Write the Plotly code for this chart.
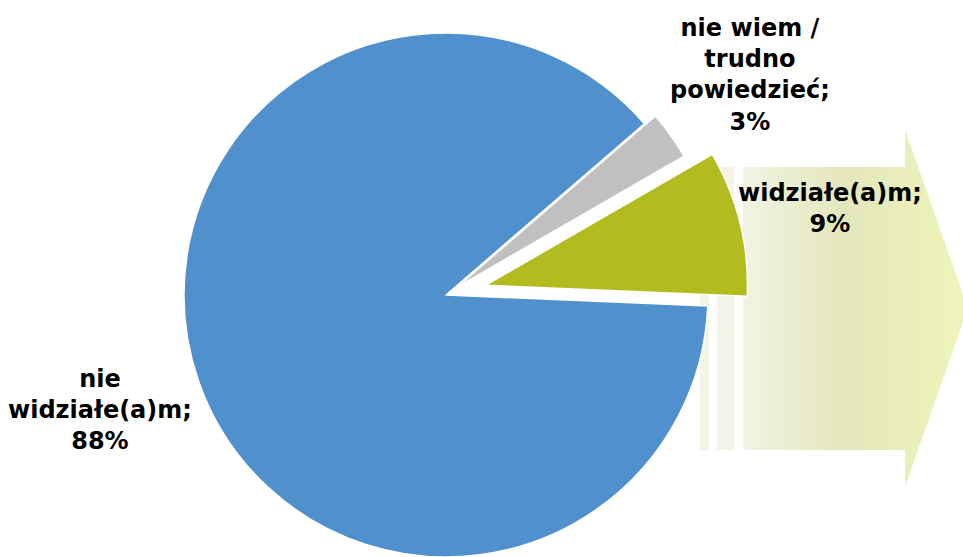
import math
import plotly.graph_objects as go

# Survey answers (share of respondents, %)
labels = ["widziałe(a)m", "nie widziałe(a)m", "nie wiem / trudno powiedzieć"]
values = [9, 88, 3]
label_lines = ["widziałe(a)m;", "nie<br>widziałe(a)m;", "nie wiem /<br>trudno<br>powiedzieć;"]

colors = ["#B3BC1E", "#4F90CD", "#C0C0C0"]
explode = [0.155, 0.0, 0.052]

W, H = 963, 557
R = 262                 # pie radius in px
CX, CY = 446, 295       # pie centre in px (from top-left)
ROTATION = 60           # first slice starts at 2 o'clock, goes clockwise

fig = go.Figure()

# Decorative arrow behind the pie (pixel-valued axes: x right, y down)
arrow_x = [743, 905, 905, 968, 905, 905, 743, 743]
arrow_y = [167, 167, 130, 308, 487, 450, 450, 167]
fig.add_trace(go.Scatter(
    x=arrow_x, y=arrow_y, mode="lines", fill="toself",
    line=dict(width=0), hoverinfo="skip", showlegend=False,
    fillgradient=dict(type="horizontal",
                      colorscale=[[0, "#F3F3E4"], [0.45, "#E3E7BB"], [1, "#EFF5BA"]]),
))

for x0, x1 in [(700, 709), (717, 734)]:
    fig.add_shape(type="rect", xref="x", yref="y", x0=x0, x1=x1, y0=167, y1=450,
                  fillcolor="#F4F5E6", line=dict(width=0), layer="below")

# One pie trace per slice so each slice can be offset (exploded) without
# shrinking the whole pie.
total = sum(values)
for i, (v, p) in enumerate(zip(values, explode)):
    before = sum(values[:i])
    mid = ROTATION + 360 * (before + v / 2) / total   # clockwise from 12 o'clock
    a = math.radians(mid)
    dx = p * R * math.sin(a)
    dy = p * R * math.cos(a)          # upwards
    cx = CX + dx
    cy = CY - dy
    dom_x = [(cx - R) / W, (cx + R) / W]
    dom_y = [max(0.0, (H - cy - R) / H), (H - cy + R) / H]
    slice_colors = [c if j == i else "rgba(0,0,0,0)" for j, c in enumerate(colors)]
    widths = [1.5 if j == i else 0 for j in range(len(values))]
    fig.add_trace(go.Pie(
        labels=labels, values=values, sort=False, direction="clockwise",
        rotation=ROTATION, textinfo="none", hoverinfo="skip", showlegend=False,
        marker=dict(colors=slice_colors, line=dict(color="white", width=widths)),
        domain=dict(x=dom_x, y=dom_y),
    ))

# Slice labels
label_pos = [(830, 208), (100, 410), (750, 75)]
for txt, v, (lx, ly) in zip(label_lines, values, label_pos):
    fig.add_annotation(
        x=lx, y=ly, xref="x", yref="y", showarrow=False,
        text=f"<b>{txt}<br>{v}%</b>", align="center",
        font=dict(family="DejaVu Sans", size=24, color="#000000"),
    )

fig.update_layout(
    width=W, height=H, margin=dict(l=0, r=0, t=0, b=0),
    paper_bgcolor="white", plot_bgcolor="rgba(0,0,0,0)",
    xaxis=dict(range=[0, W], visible=False, fixedrange=True),
    yaxis=dict(range=[H, 0], visible=False, fixedrange=True),
    showlegend=False,
)

fig.write_html("out.html")
